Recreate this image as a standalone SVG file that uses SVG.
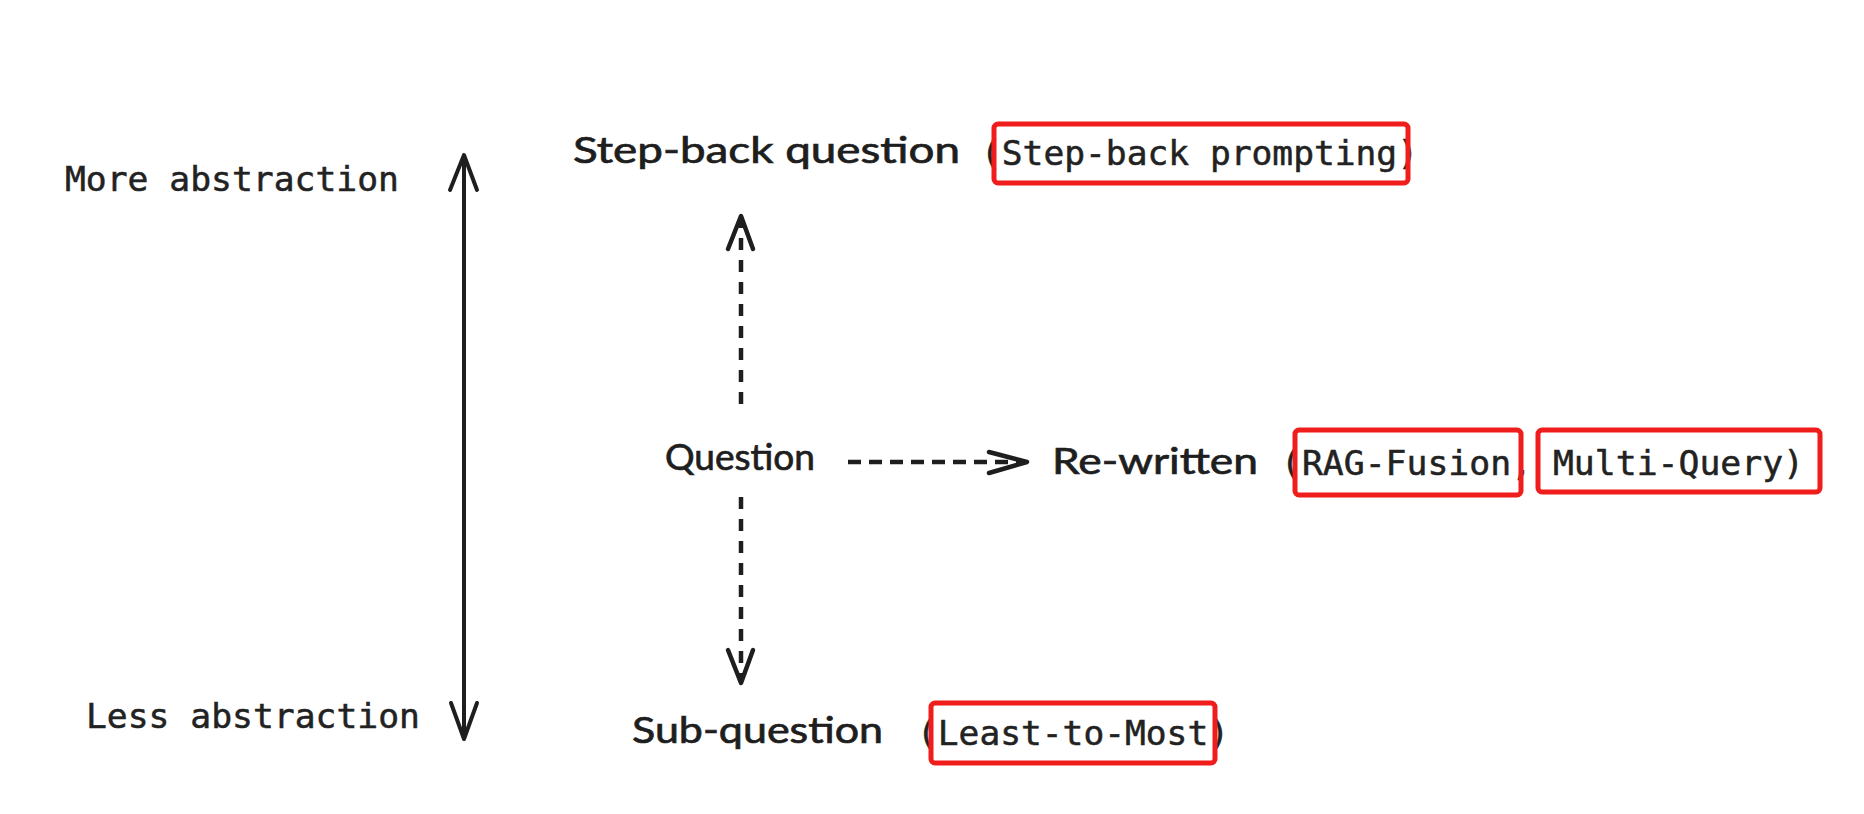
<svg xmlns="http://www.w3.org/2000/svg" width="1864" height="814" viewBox="0 0 1864 814">
<style>
.mono{font-family:"DejaVu Sans Mono","Liberation Mono",monospace;font-size:33px;fill:#222;stroke:#222;stroke-width:0.5}
.hand{font-family:"Lato","Noto Sans",sans-serif;font-size:36px;fill:#1e1e1e;stroke:#1e1e1e;stroke-width:0.7}
.box{fill:none;stroke:#f01d1d;stroke-width:5}
.solid{fill:none;stroke:#1e1e1e;stroke-width:4;stroke-linecap:round;stroke-linejoin:round}
.dash{fill:none;stroke:#1e1e1e;stroke-width:4.5;stroke-dasharray:12 10}
.head{fill:none;stroke:#1e1e1e;stroke-width:4.5;stroke-linecap:round;stroke-linejoin:round}
</style>
<rect width="1864" height="814" fill="#ffffff"/>
<g id="connectors">
<g id="abstraction-axis">
<line class="solid" x1="464" y1="157" x2="464" y2="737"/>
<polyline class="solid" points="450,190 464,155 477,190"/>
<polyline class="solid" points="451,703 464,739 477,703"/>
</g>
<g id="q-to-stepback">
<line class="dash" x1="741" y1="404" x2="741" y2="222"/>
<polyline class="head" points="728,249 741,216 753,249"/>
</g>
<g id="q-to-sub">
<line class="dash" x1="741" y1="497" x2="741" y2="680"/>
<polyline class="head" points="728,650 741,683 753,650"/>
</g>
<g id="q-to-rewritten">
<line class="dash" x1="848" y1="462" x2="1022" y2="462" style="stroke-dasharray:13 8"/>
<polyline class="head" points="989,452 1027,462 989,473"/>
</g>
</g>
<g id="label-more">
<text class="mono" x="65" y="191" textLength="334" lengthAdjust="spacingAndGlyphs">More abstraction</text>
</g>
<g id="label-less">
<text class="mono" x="86" y="728" textLength="334" lengthAdjust="spacingAndGlyphs">Less abstraction</text>
</g>
<g id="node-stepback">
<text class="hand" x="573" y="163" textLength="387" lengthAdjust="spacingAndGlyphs">Step-back question</text>
<text class="mono" x="981" y="165" textLength="437" lengthAdjust="spacingAndGlyphs">(Step-back prompting)</text>
<rect class="box" x="994" y="124" width="414" height="59" rx="4"/>
</g>
<g id="node-question">
<text class="hand" x="665" y="470" textLength="150" lengthAdjust="spacingAndGlyphs">Question</text>
</g>
<g id="node-rewritten">
<text class="hand" x="1052" y="474" textLength="206" lengthAdjust="spacingAndGlyphs">Re-written</text>
<text class="mono" x="1281" y="475" textLength="523" lengthAdjust="spacingAndGlyphs">(RAG-Fusion, Multi-Query)</text>
<rect class="box" x="1295" y="430" width="226" height="65" rx="4"/>
<rect class="box" x="1538" y="430" width="282" height="62" rx="4"/>
</g>
<g id="node-sub">
<text class="hand" x="632" y="743" textLength="251" lengthAdjust="spacingAndGlyphs">Sub-question</text>
<text class="mono" x="917" y="745" textLength="312" lengthAdjust="spacingAndGlyphs">(Least-to-Most)</text>
<rect class="box" x="931" y="703" width="284" height="60" rx="4"/>
</g>
</svg>
